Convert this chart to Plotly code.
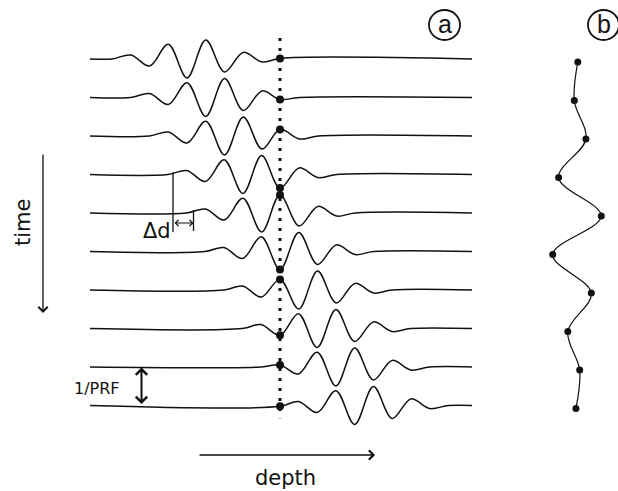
import plotly.graph_objects as go

W, H = 618, 491

# ---------------- data ----------------
pulse_index = [0, 1, 2, 3, 4, 5, 6, 7, 8, 9]          # successive pulses (time, in 1/PRF)
# echo wavelet read at its extrema: depth offset from the echo centre (wavelengths), relative amplitude
wavelet_offset = [-2.25, -1.75, -1.25, -0.75, -0.25, 0.25, 0.75, 1.25, 1.75, 2.25]
wavelet_amp = [0.0, 0.20, -0.35, 0.74, -0.95, 0.95, -0.65, 0.33, -0.15, 0.0]
# echo centre of every pulse (wavelengths, relative to the sampled depth)
echo_centre = [-2.23, -1.73, -1.23, -0.74, -0.24, 0.25, 0.75, 1.24, 1.74, 2.24]
# value sampled at the fixed depth on every pulse (dots of a and b)
sample_depth = 0.0
sample_value = [0.03, -0.10, 0.33, -0.68, 0.90, -0.90, 0.53, -0.34, 0.10, -0.04]

# ---------------- geometry / style ----------------
DEPTH_START, DEPTH_END = -5.067, 5.12      # extent of each trace (wavelengths)
AMP = 0.52                                 # pulse-spacing units per unit amplitude
INK = "#111111"
FONT = "DejaVu Sans"


def px(x):
    return x / W


def py(y):
    return 1 - y / H


fig = go.Figure()

for k in pulse_index:
    knots = [(echo_centre[k] + o, a) for o, a in zip(wavelet_offset, wavelet_amp)
             if abs(echo_centre[k] + o - sample_depth) > 0.2]
    knots.append((sample_depth, sample_value[k]))
    knots.sort()
    xs = [DEPTH_START] + [p[0] for p in knots] + [DEPTH_END]
    ys = [k] + [k - AMP * p[1] for p in knots] + [k]
    fig.add_trace(go.Scatter(x=xs, y=ys, mode="lines",
                             line=dict(color=INK, width=1.5, shape="spline", smoothing=1.0),
                             hoverinfo="skip", showlegend=False))

# dotted sampling depth
fig.add_trace(go.Scatter(x=[sample_depth, sample_depth], y=[-0.545, 9.33], mode="lines",
                         line=dict(color=INK, width=3, dash="3px,7px"),
                         hoverinfo="skip", showlegend=False))

# sampled dots in a
fig.add_trace(go.Scatter(x=[sample_depth] * len(pulse_index),
                         y=[k - AMP * v for k, v in zip(pulse_index, sample_value)],
                         mode="markers", marker=dict(color=INK, size=8),
                         hoverinfo="skip", showlegend=False))

# panel b: sampled signal
fig.add_trace(go.Scatter(x=sample_value, y=[k + 0.08 for k in pulse_index], xaxis="x2",
                         mode="lines+markers",
                         line=dict(color=INK, width=1.2, shape="spline", smoothing=1.0),
                         marker=dict(color=INK, size=7),
                         hoverinfo="skip", showlegend=False))

x_lo, x_hi = -280 / 37.5, (W - 280) / 37.5
y_top, y_bot = -59 / 38.5, (H - 59) / 38.5

ax_common = dict(showgrid=False, zeroline=False, showticklabels=False, ticks="",
                 showline=False, fixedrange=True)
fig.update_layout(
    width=W, height=H, margin=dict(l=0, r=0, t=0, b=0, pad=0),
    paper_bgcolor="white", plot_bgcolor="rgba(0,0,0,0)", showlegend=False,
    xaxis=dict(range=[x_lo, x_hi], domain=[0, 1], **ax_common),
    yaxis=dict(range=[y_bot, y_top], domain=[0, 1], **ax_common),
    xaxis2=dict(range=[(540 - 577) / 27, (615 - 577) / 27], domain=[540 / W, 615 / W],
                anchor="y", **ax_common),
)

shapes = []
line_style = dict(color=INK, width=1.3)
# Δd markers
shapes.append(dict(type="line", xref="paper", yref="paper", x0=px(173), x1=px(173),
                   y0=py(172), y1=py(232), line=line_style))
shapes.append(dict(type="line", xref="paper", yref="paper", x0=px(193.5), x1=px(193.5),
                   y0=py(210), y1=py(231), line=line_style))
# circled labels
shapes.append(dict(type="circle", xref="paper", yref="paper", x0=px(429), x1=px(460),
                   y0=py(40), y1=py(10), line=dict(color=INK, width=1.8)))
shapes.append(dict(type="circle", xref="paper", yref="paper", x0=px(588), x1=px(619),
                   y0=py(40), y1=py(10), line=dict(color=INK, width=1.8)))
fig.update_layout(shapes=shapes)

ann = []


def text(x, y, s, size, angle=0, family=FONT):
    ann.append(dict(xref="paper", yref="paper", x=px(x), y=py(y), text=s, showarrow=False,
                    textangle=angle, font=dict(family=family, size=size, color=INK),
                    xanchor="center", yanchor="middle"))


def arrow(hx, hy, tx, ty, width, size, both=False):
    ann.append(dict(xref="paper", yref="paper", x=px(hx), y=py(hy), ax=tx - hx, ay=ty - hy,
                    text="", showarrow=True, arrowhead=4, startarrowhead=4,
                    arrowside="end+start" if both else "end",
                    arrowwidth=width, arrowsize=size, startarrowsize=size,
                    arrowcolor=INK, standoff=0, startstandoff=0))


text(444.5, 24.5, "a", 25, family="Liberation Sans")
text(603.5, 24.5, "b", 25, family="Liberation Sans")
text(23, 223, "time", 21, angle=-90)
text(157, 231, "Δd", 21)
text(97, 388, "1/PRF", 16)
text(285, 478, "depth", 21)

arrow(43, 313, 43, 153, 1.3, 1.4)
arrow(375, 455, 198, 455, 1.3, 1.4)
arrow(141.5, 404, 141.5, 366, 2.0, 1.1, both=True)
arrow(193.5, 223, 173, 223, 1.0, 1.2, both=True)

fig.update_layout(annotations=ann)

fig.write_html("out.html", config={"displayModeBar": False, "staticPlot": True},
               post_script="document.body.style.margin='0';")
